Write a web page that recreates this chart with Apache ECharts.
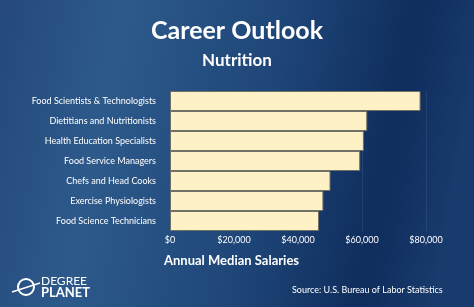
<!DOCTYPE html>
<html><head><meta charset="utf-8">
<script src="https://cdn.jsdelivr.net/npm/echarts@6/dist/echarts.min.js"></script>
<style>html,body{margin:0;padding:0;}#c{width:474px;height:307px;}</style>
</head><body><div id="c"></div>
<script>
const categories = ['Food Scientists & Technologists','Dietitians and Nutritionists','Health Education Specialists','Food Service Managers','Chefs and Head Cooks','Exercise Physiologists','Food Science Technicians'];
const salaries = [78300, 61650, 60600, 59440, 50160, 47940, 46570];
const xTicks = [0, 20000, 40000, 60000, 80000];

const chart = echarts.init(document.getElementById('c'));
chart.setOption({
  backgroundColor: {
    type: 'linear', x: 0, y: 0, x2: 1, y2: 0.3,
    colorStops: [
      {offset: 0, color: '#24497a'},
      {offset: 0.25, color: '#2d5a8b'},
      {offset: 0.6, color: '#1e4577'},
      {offset: 0.85, color: '#0f2d5d'},
      {offset: 1, color: '#183a6c'}
    ]
  },
  title: [
    {text: 'Career Outlook', left: 'center', top: 13, textStyle: {color: '#ffffff', fontFamily: 'Lato', fontWeight: 'bold', fontSize: 25}},
    {text: 'Nutrition', left: 'center', top: 47, textStyle: {color: '#ffffff', fontFamily: 'Lato', fontWeight: 'bold', fontSize: 17}}
  ],
  grid: {left: 170, right: 48, top: 91, bottom: 76, containLabel: false},
  xAxis: {
    type: 'value', min: 0, max: 80000, interval: 20000,
    axisLine: {show: false}, axisTick: {show: false},
    splitLine: {show: true, lineStyle: {color: 'rgba(255,255,255,0.08)', width: 1}},
    axisLabel: {color: '#ffffff', fontFamily: 'Lato', fontSize: 9, margin: 5,
      formatter: v => '$' + v.toLocaleString('en-US')}
  },
  yAxis: {
    type: 'category', data: categories, inverse: true,
    axisLine: {show: false}, axisTick: {show: false},
    axisLabel: {color: '#ffffff', fontFamily: 'Lato', fontSize: 9, margin: 14}
  },
  series: [{
    type: 'bar', data: salaries, barCategoryGap: '0%',
    itemStyle: {color: '#fff1c6', borderColor: '#6f7166', borderWidth: 1}
  }],
  graphic: [
    {type: 'text', left: 164, top: 254, style: {text: 'Annual Median Salaries', fill: '#ffffff', font: 'bold 13px Lato'}},
    {type: 'text', left: 292, top: 286, style: {text: 'Source: U.S. Bureau of Labor Statistics', fill: '#ffffff', font: '9px Lato'}},
    {type: 'text', left: 41, top: 275, style: {text: 'DEGREE', fill: '#ffffff', font: '12px Lato'}},
    {type: 'text', left: 41, top: 286, style: {text: 'PLANET', fill: '#ffffff', font: 'bold 13px Lato'}},
    {type: 'circle', shape: {cx: 26, cy: 287, r: 8}, style: {fill: 'none', stroke: '#ffffff', lineWidth: 2}},
    {type: 'line', shape: {x1: 12, y1: 292, x2: 40, y2: 283}, style: {stroke: '#ffffff', lineWidth: 1.5}}
  ]
});
</script></body></html>
